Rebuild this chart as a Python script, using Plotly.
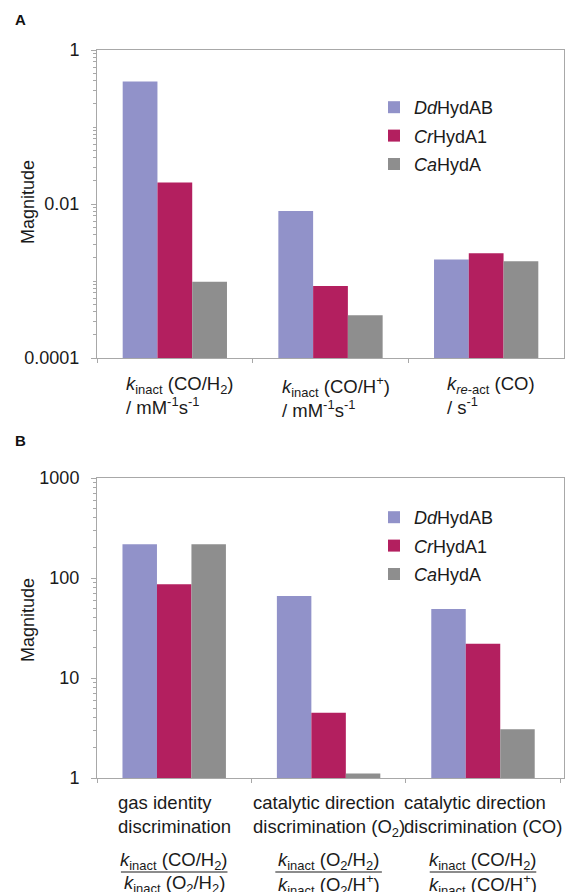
import plotly.graph_objects as go

# Figure size in px
W, H = 577, 892

# ---- data ---------------------------------------------------------------
enzymes = ["<i>Dd</i>HydAB", "<i>Cr</i>HydA1", "<i>Ca</i>HydA"]
enzyme_colors = ["#9192c9", "#b31f5f", "#8e8e8e"]

# Panel A: rate constants
rate_categories = ["kinact_CO_H2", "kinact_CO_Hplus", "kreact_CO"]
rate_labels = [
    "<i>k</i><sub>inact</sub> (CO/H<sub>2</sub>)<br>/ mM<sup>-1</sup>s<sup>-1</sup>",
    "<i>k</i><sub>inact</sub> (CO/H<sup>+</sup>)<br>/ mM<sup>-1</sup>s<sup>-1</sup>",
    "<i>k</i><sub><i>re</i>-act</sub> (CO)<br>/ s<sup>-1</sup>",
]
dd_rates = [0.39, 0.0081, 0.0019]
cr_rates = [0.019, 0.00086, 0.0023]
ca_rates = [0.00098, 0.00036, 0.0018]

# Panel B: discrimination ratios
ratio_categories = ["gas_identity", "direction_O2", "direction_CO"]
ratio_labels = [
    "gas identity<br>discrimination",
    "catalytic direction<br>discrimination (O<sub>2</sub>)",
    "catalytic direction<br>discrimination (CO)",
]
ratio_numerators = [
    "<i>k</i><sub>inact</sub> (CO/H<sub>2</sub>)",
    "<i>k</i><sub>inact</sub> (O<sub>2</sub>/H<sub>2</sub>)",
    "<i>k</i><sub>inact</sub> (CO/H<sub>2</sub>)",
]
ratio_denominators = [
    "<i>k</i><sub>inact</sub> (O<sub>2</sub>/H<sub>2</sub>)",
    "<i>k</i><sub>inact</sub> (O<sub>2</sub>/H<sup>+</sup>)",
    "<i>k</i><sub>inact</sub> (CO/H<sup>+</sup>)",
]
dd_ratios = [217, 66, 49]
cr_ratios = [86.5, 4.5, 22]
ca_ratios = [217, 1.11, 3.07]

rate_ticks = [1e-4, 1e-2, 1]
rate_ticktext = ["0.0001", "0.01", "1"]
ratio_ticks = [1, 10, 100, 1000]
ratio_ticktext = ["1", "10", "100", "1000"]

# ---- styling ------------------------------------------------------------
FONT = "Liberation Sans, Arial, Helvetica, sans-serif"
TXT = "#1a1a1a"
GREY = "#a8a8a8"
LABEL_SIZE = 18.5

def px_x(p):
    return p / W

def px_y(p):
    return 1 - p / H

x_dom = [px_x(97), px_x(564)]
yA_dom = [px_y(358), px_y(50)]
yB_dom = [px_y(778), px_y(478)]

def minor_log_ticks(lo, hi):
    vals = []
    for e in range(lo, hi):
        for m in range(2, 10):
            vals.append(m * 10.0 ** e)
    return vals

fig = go.Figure()

rate_sets = [dd_rates, cr_rates, ca_rates]
ratio_sets = [dd_ratios, cr_ratios, ca_ratios]

for i, (name, color) in enumerate(zip(enzymes, enzyme_colors)):
    fig.add_trace(go.Bar(
        x=rate_categories, y=rate_sets[i], name=name,
        marker=dict(color=color, line=dict(width=0)),
        xaxis="x", yaxis="y", legend="legend", legendgroup=f"a{i}",
    ))
for i, (name, color) in enumerate(zip(enzymes, enzyme_colors)):
    fig.add_trace(go.Bar(
        x=ratio_categories, y=ratio_sets[i], name=name,
        marker=dict(color=color, line=dict(width=0)),
        xaxis="x2", yaxis="y2", legend="legend2", legendgroup=f"b{i}",
    ))

common_x = dict(
    domain=x_dom, type="category", showline=True, linecolor=GREY, linewidth=1,
    mirror=True, ticks="outside", tickson="boundaries", ticklen=4,
    tickcolor=GREY, showticklabels=False, showgrid=False, zeroline=False,
    automargin=False,
)
common_y = dict(
    type="log", showline=True, linecolor=GREY, linewidth=1, mirror=True,
    ticks="outside", ticklen=5, tickcolor=GREY, showgrid=False,
    zeroline=False, tickmode="array", ticklabelstandoff=8, automargin=False,
    tickfont=dict(family=FONT, size=18, color=TXT),
)

fig.update_layout(
    width=W, height=H,
    margin=dict(l=0, r=0, t=0, b=0, autoexpand=False),
    paper_bgcolor="white", plot_bgcolor="white",
    font=dict(family=FONT, size=18, color=TXT),
    barmode="group", bargap=0.33, bargroupgap=0,
    xaxis=dict(anchor="y", **common_x),
    xaxis2=dict(anchor="y2", **common_x),
    yaxis=dict(
        anchor="x", domain=yA_dom, range=[-4, 0],
        tickvals=rate_ticks, ticktext=rate_ticktext,
        minor=dict(tickmode="array", tickvals=minor_log_ticks(-4, 0) + [1e-3, 1e-1],
                   ticks="outside", ticklen=3, tickcolor=GREY),
        **common_y,
    ),
    yaxis2=dict(
        anchor="x2", domain=yB_dom, range=[0, 3],
        tickvals=ratio_ticks, ticktext=ratio_ticktext,
        minor=dict(tickmode="array", tickvals=minor_log_ticks(0, 3),
                   ticks="outside", ticklen=3, tickcolor=GREY),
        **common_y,
    ),
    legend=dict(
        x=px_x(374), y=px_y(89), xanchor="left", yanchor="top",
        bgcolor="rgba(0,0,0,0)", tracegroupgap=2,
        font=dict(family=FONT, size=18, color=TXT),
    ),
    legend2=dict(
        x=px_x(374), y=px_y(499), xanchor="left", yanchor="top",
        bgcolor="rgba(0,0,0,0)", tracegroupgap=2,
        font=dict(family=FONT, size=18, color=TXT),
    ),
    showlegend=True,
)

annotations = []

# panel letters
annotations.append(dict(text="<b>A</b>", x=px_x(13), y=px_y(20), xref="paper", yref="paper",
                        xanchor="left", yanchor="middle", showarrow=False,
                        font=dict(family=FONT, size=15, color="#111")))
annotations.append(dict(text="<b>B</b>", x=px_x(13), y=px_y(441), xref="paper", yref="paper",
                        xanchor="left", yanchor="middle", showarrow=False,
                        font=dict(family=FONT, size=15, color="#111")))

# y-axis titles
for yc in (202, 620):
    annotations.append(dict(text="Magnitude", x=px_x(28), y=px_y(yc), xref="paper", yref="paper",
                            xanchor="center", yanchor="middle", textangle=-90, showarrow=False,
                            font=dict(family=FONT, size=18, color=TXT)))

# category labels, panel A
for cat, lab in zip(rate_categories, rate_labels):
    annotations.append(dict(text=lab, x=cat, xref="x", y=px_y(371), yref="paper",
                            xanchor="center", yanchor="top", align="left", showarrow=False,
                            xshift=5, font=dict(family=FONT, size=LABEL_SIZE, color=TXT)))

# category labels and ratio definitions, panel B
shapes = []
for i, (cat, lab, num, den) in enumerate(zip(ratio_categories, ratio_labels,
                                             ratio_numerators, ratio_denominators)):
    annotations.append(dict(text=lab, x=cat, xref="x2", y=px_y(790), yref="paper",
                            xanchor="center", yanchor="top", align="left", showarrow=False,
                            font=dict(family=FONT, size=LABEL_SIZE, color=TXT)))
    annotations.append(dict(text=num, x=cat, xref="x2", y=px_y(861), yref="paper",
                            xanchor="center", yanchor="middle", showarrow=False,
                            font=dict(family=FONT, size=LABEL_SIZE, color=TXT)))
    annotations.append(dict(text=den, x=cat, xref="x2", y=px_y(884), yref="paper",
                            xanchor="center", yanchor="middle", showarrow=False,
                            font=dict(family=FONT, size=LABEL_SIZE, color=TXT)))
    # fraction bar under the numerator
    shapes.append(dict(type="line", xref="x2", yref="paper",
                       x0=i - 0.345, x1=i + 0.345, y0=px_y(872), y1=px_y(872),
                       line=dict(color=TXT, width=1.2)))

fig.update_layout(annotations=annotations, shapes=shapes)

fig.write_html("out.html")
